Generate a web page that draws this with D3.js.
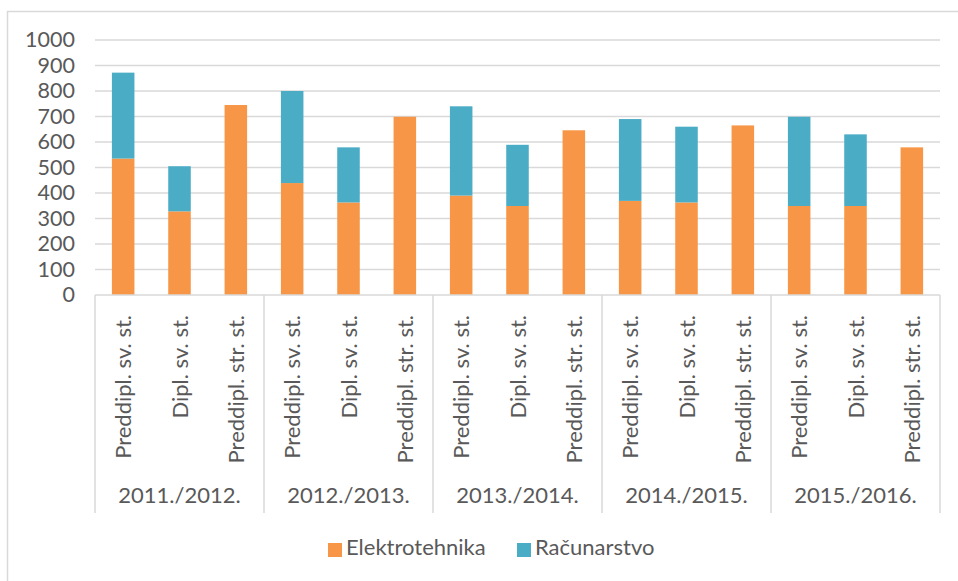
<!DOCTYPE html>
<html>
<head>
<meta charset="utf-8">
<script src="https://cdn.jsdelivr.net/npm/d3@7/dist/d3.min.js"></script>
<style>
  body { margin: 0; background: #fff; }
  svg text { font-family: Lato, "Open Sans", sans-serif; fill: #595959; }
</style>
</head>
<body>
<svg id="chart" width="958" height="581"></svg>
<script>
const years = ["2011./2012.", "2012./2013.", "2013./2014.", "2014./2015.", "2015./2016."];
const programs = ["Preddipl. sv. st.", "Dipl. sv. st.", "Preddipl. str. st."];
const seriesNames = ["Elektrotehnika", "Računarstvo"];
const colors = ["#f79646", "#4bacc6"];

// values per bar, in order year by year: preddipl sv, dipl sv, preddipl str
const elektrotehnika = [535, 328, 745, 439, 363, 699, 390, 349, 646, 369, 363, 665, 349, 349, 579];
const racunarstvo    = [337, 177, 0, 361, 216, 0, 350, 240, 0, 321, 297, 0, 350, 281, 0];
const yTicks = [0, 100, 200, 300, 400, 500, 600, 700, 800, 900, 1000];

const svg = d3.select("#chart");
const margin = { left: 95, right: 18, top: 40, plotBottom: 295, catBottom: 513 };

// frame
svg.append("rect")
  .attr("x", 7.5).attr("y", 11.5)
  .attr("width", 970).attr("height", 600)
  .attr("fill", "none").attr("stroke", "#d9d9d9").attr("stroke-width", 1.5);

const rows = [];
years.forEach((yr, i) => {
  programs.forEach((p, j) => {
    const k = i * 3 + j;
    rows.push({ key: yr + "|" + p, year: yr, program: p,
      Elektrotehnika: elektrotehnika[k], "Računarstvo": racunarstvo[k] });
  });
});

const x = d3.scaleBand()
  .domain(rows.map(d => d.key))
  .range([margin.left, 958 - margin.right])
  .paddingInner(0.6).paddingOuter(0.3);

const y = d3.scaleLinear().domain([0, 1000]).range([margin.plotBottom, margin.top]);

// gridlines
svg.append("g")
  .selectAll("line")
  .data(yTicks.slice(1))
  .join("line")
  .attr("x1", margin.left).attr("x2", 958 - margin.right)
  .attr("y1", d => y(d)).attr("y2", d => y(d))
  .attr("stroke", "#d9d9d9").attr("stroke-width", 1.5);

// y axis labels
const gy = svg.append("g").attr("transform", `translate(${margin.left - 20},0)`)
  .call(d3.axisLeft(y).tickValues(yTicks).tickFormat(d3.format("d")).tickSize(0).tickPadding(0));
gy.select(".domain").remove();
gy.selectAll("text")
  .style("font-family", "Lato, sans-serif")
  .style("font-size", "21.5px")
  .style("fill", "#595959");

// stacked bars
const stack = d3.stack().keys(seriesNames)(rows);
svg.append("g")
  .selectAll("g")
  .data(stack)
  .join("g")
  .attr("fill", (d, i) => colors[i])
  .selectAll("rect")
  .data(d => d.filter(s => s[1] > s[0]))
  .join("rect")
  .attr("x", d => x(d.data.key))
  .attr("y", d => y(d[1]))
  .attr("width", x.bandwidth())
  .attr("height", d => y(d[0]) - y(d[1]));

// category axis: base line and group separators
const left = margin.left;
svg.append("line")
  .attr("x1", left).attr("x2", 958 - margin.right)
  .attr("y1", margin.plotBottom).attr("y2", margin.plotBottom)
  .attr("stroke", "#d9d9d9").attr("stroke-width", 1.5);

const groupEdges = d3.range(years.length + 1).map(i => left + i * 3 * (958 - margin.right - left) / 15);
svg.append("g")
  .selectAll("line")
  .data(groupEdges)
  .join("line")
  .attr("x1", d => d).attr("x2", d => d)
  .attr("y1", margin.plotBottom).attr("y2", margin.catBottom)
  .attr("stroke", "#d9d9d9").attr("stroke-width", 1.5);

// rotated program labels
svg.append("g")
  .selectAll("text")
  .data(rows)
  .join("text")
  .attr("transform", d => `translate(${x(d.key) + x.bandwidth() / 2 + 8},315) rotate(-90)`)
  .attr("text-anchor", "end")
  .style("font-size", "22px")
  .text(d => d.program);

// year labels
svg.append("g")
  .selectAll("text")
  .data(years)
  .join("text")
  .attr("x", (d, i) => (groupEdges[i] + groupEdges[i + 1]) / 2)
  .attr("y", 503)
  .attr("text-anchor", "middle")
  .style("font-size", "22px")
  .text(d => d);

// legend
const legend = svg.append("g");
const legendX = [328, 517];
seriesNames.forEach((name, i) => {
  legend.append("rect")
    .attr("x", legendX[i]).attr("y", 543)
    .attr("width", 14).attr("height", 14)
    .attr("fill", colors[i]);
  legend.append("text")
    .attr("x", legendX[i] + 18).attr("y", 555)
    .style("font-size", "22px")
    .text(name);
});
</script>
</body>
</html>
